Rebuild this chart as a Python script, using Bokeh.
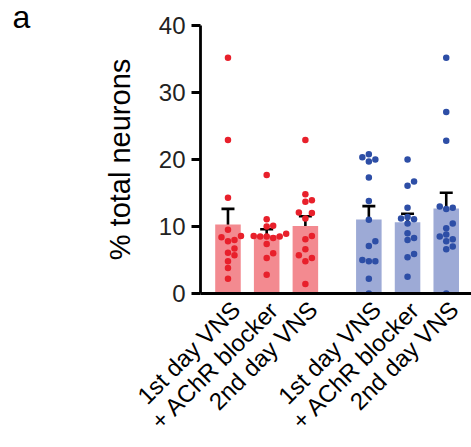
import numpy as np
from bokeh.plotting import figure
from bokeh.models import Range1d, FixedTicker, ColumnDataSource, Whisker, TeeHead, Title
from bokeh.embed import file_html
from bokeh.resources import INLINE

# ---------------- data ----------------
categories = ["1st day VNS", "+ AChR blocker", "2nd day VNS",
              "1st day VNS", "+ AChR blocker", "2nd day VNS"]
group_of = [0, 0, 0, 1, 1, 1]

red_1st = [35.2, 22.9, 14.3, 9.5, 8.0, 7.8, 8.4, 8.6, 6.1, 6.7, 5.7, 4.8, 3.8, 2.2]
red_achr = [17.7, 11.1, 10.1, 10.0, 8.9, 8.5, 8.3, 8.5, 8.6, 8.5, 7.4, 6.0, 5.3, 2.8]
red_2nd = [22.9, 14.8, 13.7, 13.9, 12.1, 12.0, 11.2, 8.6, 8.1, 6.6, 5.7, 5.3, 4.8, 1.4]
blue_1st = [20.8, 20.0, 19.7, 20.35, 17.3, 13.8, 11.0, 7.8, 7.1, 4.8, 5.0, 4.8, 2.2, 0.0]
blue_achr = [20.0, 16.7, 16.1, 12.8, 11.1, 11.4, 11.2, 10.45, 9.0, 8.0, 8.3, 5.9, 5.4, 2.5]
blue_2nd = [35.2, 27.1, 22.8, 12.8, 13.0, 12.6, 10.45, 9.75, 8.8, 8.1, 8.5, 7.8, 7.0, 6.6, 0.0]
series = [red_1st, red_achr, red_2nd, blue_1st, blue_achr, blue_2nd]

y_ticks = [0, 10, 20, 30, 40]
panel_letter = "a"

bar_colors = ["#F38A90", "#9DAAD6"]
dot_colors = ["#E8202B", "#2D4EA6"]

# ---------------- layout ----------------
W, H = 471, 447
LEFT, TOP, BOTTOM = 200, 25, 154
GROUP_GAP = 0.64
X_START = -0.71
frame_w = W - LEFT
frame_h = H - TOP - BOTTOM
PX_X = 38.7
X_END = X_START + frame_w / PX_X
Y_END = 40
PX_Y = frame_h / Y_END
DOT = 6.5
LABEL_SHIFT = 0.2   # rotated category labels sit a little right of the bar centre

positions = [i + GROUP_GAP * g for i, g in enumerate(group_of)]
label_ticks = [x + LABEL_SHIFT for x in positions]

means = [float(np.mean(s)) for s in series]
sems = [float(np.std(s, ddof=1) / np.sqrt(len(s))) for s in series]


def swarm(vals):
    vals = np.asarray(vals, dtype=float)
    order = np.argsort(vals, kind="stable")
    placed = []
    offs = np.zeros(len(vals))
    cands = [0.0]
    for j in range(1, 12):
        cands += [j * DOT, -j * DOT]
    for i in order:
        yp = vals[i] * PX_Y
        chosen = cands[-1]
        for c in cands:
            if all((c - px) ** 2 + (yp - py) ** 2 >= (DOT * 0.95) ** 2 for px, py in placed):
                chosen = c
                break
        placed.append((chosen, yp))
        offs[i] = chosen / PX_X
    return offs


FONT = "Liberation Sans"

p = figure(width=W, height=H, output_backend="svg", toolbar_location=None,
           x_range=Range1d(X_START, X_END), y_range=Range1d(0, Y_END),
           min_border_left=LEFT, min_border_right=0, min_border_top=TOP,
           min_border_bottom=BOTTOM, outline_line_color=None)
p.title = Title(text=panel_letter, align="left", vertical_align="top",
                offset=12 - LEFT, standoff=-23, text_font=FONT,
                text_font_size="32px", text_font_style="normal", text_color="black")
p.grid.visible = False
p.background_fill_color = "white"
p.border_fill_color = "white"

# bars
bar_src = ColumnDataSource(dict(
    x=positions, top=means,
    color=[bar_colors[g] for g in group_of],
    upper=[m + s for m, s in zip(means, sems)],
    lower=[m - s for m, s in zip(means, sems)],
))
p.vbar(x="x", top="top", bottom=0, width=0.66, fill_color="color",
       line_color=None, source=bar_src)

# dots
for pos, g, vals in zip(positions, group_of, series):
    offs = swarm(vals)
    p.scatter(x=[pos + o for o in offs], y=vals, size=DOT, marker="circle",
              fill_color=dot_colors[g], line_color=None)

# error bars
w = Whisker(source=bar_src, base="x", upper="upper", lower="lower",
            line_color="black", line_width=2.6,
            upper_head=TeeHead(size=13, line_width=2.6, line_color="black"),
            lower_head=TeeHead(size=13, line_width=2.6, line_color="black"))
p.add_layout(w)

# axes
p.yaxis.ticker = FixedTicker(ticks=y_ticks)
p.yaxis.axis_label = "% total neurons"
p.yaxis.axis_label_text_font = FONT
p.yaxis.axis_label_text_font_size = "29px"
p.yaxis.axis_label_text_font_style = "normal"
p.yaxis.axis_label_text_color = "black"
p.yaxis.axis_label_standoff = 20
p.yaxis.major_label_text_font = FONT
p.yaxis.major_label_text_font_size = "24px"
p.yaxis.major_label_text_color = "#222222"
p.yaxis.major_label_standoff = 6
p.yaxis.major_tick_out = 9
p.yaxis.major_tick_in = 0
p.yaxis.minor_tick_line_color = None
p.yaxis.axis_line_width = 2.8
p.yaxis.major_tick_line_width = 2.8

p.xaxis.ticker = FixedTicker(ticks=label_ticks)
p.xaxis.major_label_overrides = {t: lab for t, lab in zip(label_ticks, categories)}
p.xaxis.major_label_orientation = np.pi / 4
p.xaxis.major_label_text_font = FONT
p.xaxis.major_label_text_font_size = "24px"
p.xaxis.major_label_text_color = "black"
p.xaxis.major_label_standoff = 12
p.xaxis.major_tick_out = 0
p.xaxis.major_tick_in = 0
p.xaxis.major_tick_line_color = None
p.xaxis.minor_tick_line_color = None
p.xaxis.axis_line_width = 2.8

open("out.html", "w").write(file_html(p, INLINE))
